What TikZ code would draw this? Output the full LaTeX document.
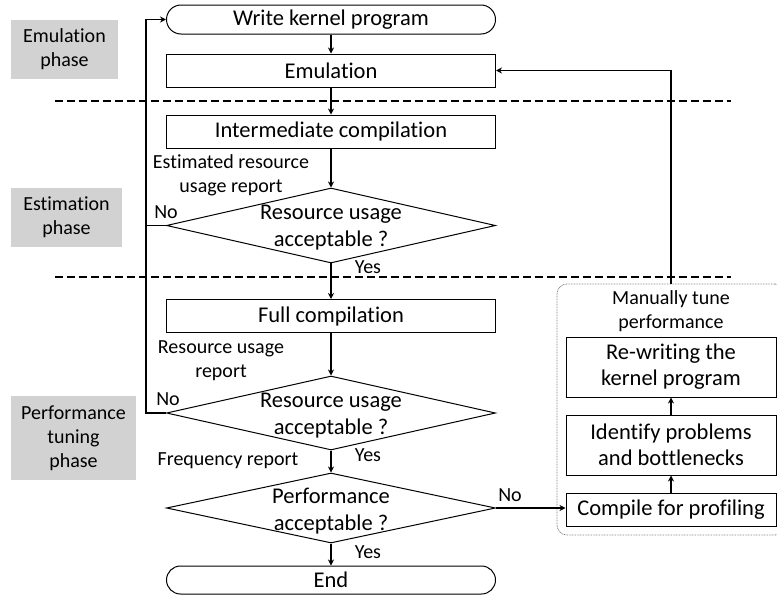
\documentclass[tikz,border=0pt]{standalone}
\usepackage{fontspec}
\setmainfont{Carlito}[Ligatures=NoCommon]
\usetikzlibrary{shapes.geometric,shapes.misc,arrows.meta}
\begin{document}
\begin{tikzpicture}[x=1pt,y=-1pt,
  big/.style={font=\fontsize{22.5}{26}\selectfont},
  small/.style={font=\fontsize{20}{24}\selectfont},
  procbox/.style={draw, line width=1pt, inner sep=0pt, minimum width=329pt, minimum height=33pt, big},
  termbox/.style={draw, rounded rectangle, line width=1pt, inner sep=0pt, minimum width=329pt, minimum height=29pt, big},
  decision/.style={draw, diamond, line width=1pt, inner sep=0pt, minimum width=329pt},
  sidebox/.style={draw, line width=1pt, inner sep=0pt, minimum width=210pt, align=center, big},
  phasebox/.style={fill=gray!35, inner sep=0pt, align=center, small},
  lbl/.style={inner sep=0pt, align=center, small},
  dtext/.style={inner sep=0pt, align=center, font=\fontsize{22.5}{27}\selectfont},
  flow/.style={line width=1.8pt, -{Stealth[length=6pt,width=6pt]}},
  plain/.style={line width=1.8pt},
  sep/.style={line width=1.8pt, dash pattern=on 8pt off 4pt},
]
\useasboundingbox (0,0) rectangle (777,597);
\clip (0,0) rectangle (777,597);

% phase labels
\node[phasebox, minimum width=107pt, minimum height=59pt] (ph1) at (64.5,49.5) {Emulation\\phase};
\node[phasebox, minimum width=111pt, minimum height=59pt] (ph2) at (66.5,217.5) {Estimation\\phase};
\node[phasebox, minimum width=125pt, minimum height=84pt] (ph3) at (73.5,438) {Performance\\tuning\\phase};

% phase separators
\coordinate (s1a) at (55,101);  \coordinate (s1b) at (731,101);
\coordinate (s2a) at (55,277);  \coordinate (s2b) at (731,277);
\draw[sep] (s1a) -- (s1b);
\draw[sep] (s2a) -- (s2b);

% main column
\node[termbox] (start) at (331,19.5) {Write kernel program};
\node[procbox] (emul) at (331,70.5) {Emulation};
\node[procbox] (inter) at (331,131.5) {Intermediate compilation};
\node[decision, minimum height=75pt] (d1) at (331,225.5) {};
\node[dtext] (d1t) at (331,228) {Resource usage\\acceptable ?};
\node[procbox] (full) at (331,316) {Full compilation};
\node[decision, minimum height=74pt] (d2) at (331,413) {};
\node[dtext] (d2t) at (331,416) {Resource usage\\acceptable ?};
\node[decision, minimum height=70pt] (d3) at (331,508) {};
\node[dtext] (d3t) at (331,511) {Performance\\acceptable ?};
\node[termbox, minimum height=28pt] (end) at (331,580) {End};

% side labels
\node[lbl] (l1) at (231,175) {Estimated resource\\usage report};
\node[lbl] (no1) at (166,212) {No};
\node[lbl] (yes1) at (368,267) {Yes};
\node[lbl] (l2) at (221,361) {Resource usage\\report};
\node[lbl] (no2) at (168,399) {No};
\node[lbl] (yes2) at (368,455) {Yes};
\node[lbl] (l3) at (228,461) {Frequency report};
\node[lbl] (yes3) at (368,552) {Yes};
\node[lbl] (no3) at (510,495) {No};

% manual tuning group
\node[draw=gray, line width=0.8pt, dash pattern=on 0.8pt off 0.8pt, rounded corners=10pt,
      minimum width=228pt, minimum height=251pt, inner sep=0pt] (tune) at (671,409.5) {};
\node[lbl] (tunet) at (671,311) {Manually tune\\performance};
\node[sidebox, minimum height=60pt] (rew) at (671,367) {Re-writing the\\kernel program};
\node[sidebox, minimum height=60pt] (ident) at (671,445) {Identify problems\\and bottlenecks};
\node[sidebox, minimum height=33pt] (comp) at (671,509.5) {Compile for profiling};

% main flow
\draw[flow] (start) -- (emul);
\draw[flow] (emul) -- (inter);
\draw[flow] (inter) -- (d1);
\draw[flow] (d1) -- (full);
\draw[flow] (full) -- (d2);
\draw[flow] (d2) -- (d3);
\draw[flow] (d3) -- (end);

% rejection loop back to the start
\coordinate (lp) at (146,0);
\draw[plain] (d1.west) -- (d1.west -| lp);
\draw[flow] (d2.west) -- (d2.west -| lp) |- (start.west);

% tuning path
\draw[flow] (d3.east) -- (d3.east -| comp.west);
\draw[flow] (comp) -- (ident);
\draw[flow] (ident) -- (rew);
\draw[flow] (tune.north) |- (emul.east);
\end{tikzpicture}
\end{document}
